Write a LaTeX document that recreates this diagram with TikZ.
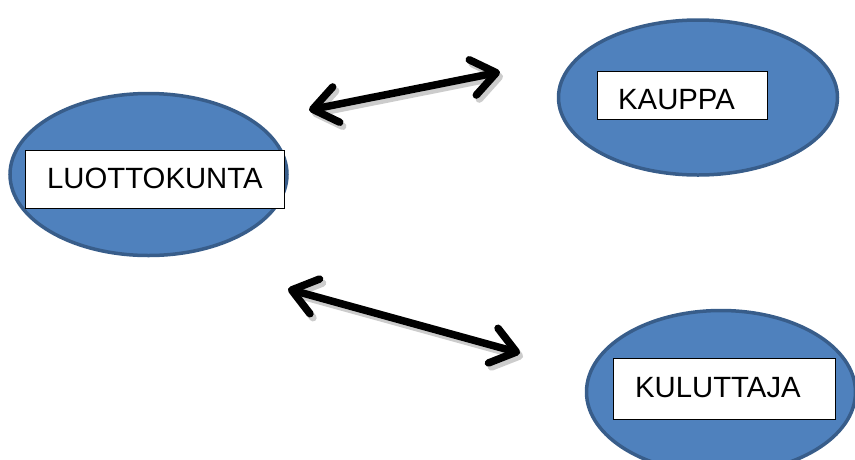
\documentclass[tikz,border=0pt]{standalone}
\usepackage{fontspec}
\setmainfont{Liberation Sans}
\usetikzlibrary{shapes.geometric,arrows.meta}
\definecolor{ellfill}{HTML}{4F81BD}
\definecolor{elldraw}{HTML}{385D8A}
\tikzset{
  blob/.style={ellipse, draw=elldraw, fill=ellfill, line width=3.5pt, inner sep=0pt},
  labelbox/.style={rectangle, draw=black, fill=white, line width=1pt, inner sep=0pt},
  labeltext/.style={inner sep=0pt, anchor=base west, font=\fontsize{29.3}{34}\selectfont},
  dblarrow/.style={line width=7.5pt, line cap=round,
    {Straight Barb[length=24pt,width=36pt,round]}-{Straight Barb[length=24pt,width=36pt,round]}},
  arrowshadow/.style={dblarrow, draw=black!20}
}
\begin{document}
\begin{tikzpicture}[x=1pt,y=-1pt]
\useasboundingbox (0,0) rectangle (855,459);
% ellipses
\node[blob, minimum width=277pt, minimum height=162pt] (e1) at (148.5,174.5) {};
\node[blob, minimum width=279pt, minimum height=155pt] (e2) at (698,97.5) {};
\node[blob, minimum width=269pt, minimum height=163pt] (e3) at (721,392) {};
% label boxes
\node[labelbox, minimum width=259pt, minimum height=58pt] (b1) at (154.5,179) {};
\node[labelbox, minimum width=170pt, minimum height=48pt] (b2) at (682,95) {};
\node[labelbox, minimum width=222pt, minimum height=61pt] (b3) at (724,388.5) {};
\node[labeltext] (t1) at (47,188) {LUOTTOKUNTA};
\node[labeltext] (t2) at (618,109) {KAUPPA};
\node[labeltext] (t3) at (635,397) {KULUTTAJA};
% arrows
\coordinate (a1s) at (309,110);
\coordinate (a1e) at (500,72);
\coordinate (a2s) at (288,289);
\coordinate (a2e) at (520,353);
\coordinate (s1s) at (312,114);
\coordinate (s1e) at (503,76);
\coordinate (s2s) at (291,293);
\coordinate (s2e) at (523,357);
\draw[arrowshadow] (s1s) -- (s1e);
\draw[arrowshadow] (s2s) -- (s2e);
\draw[dblarrow] (a1s) -- (a1e);
\draw[dblarrow] (a2s) -- (a2e);
\end{tikzpicture}
\end{document}
